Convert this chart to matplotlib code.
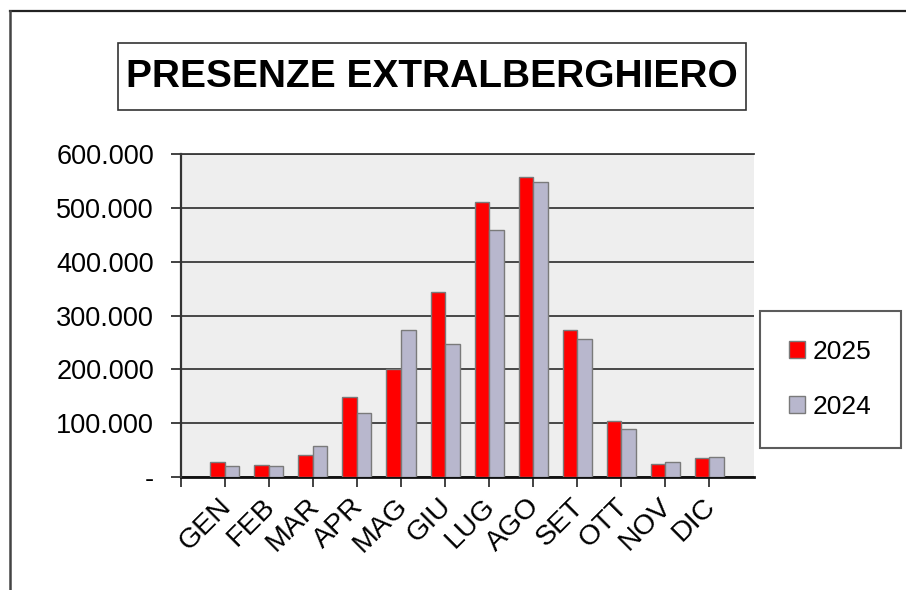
import numpy as np
import matplotlib.pyplot as plt
from matplotlib.patches import Rectangle
from matplotlib.lines import Line2D
from matplotlib.ticker import FuncFormatter
from matplotlib.transforms import ScaledTranslation

plt.rcParams['font.family'] = ['Liberation Sans', 'DejaVu Sans']

# ---------------- data ----------------
mesi = ['GEN', 'FEB', 'MAR', 'APR', 'MAG', 'GIU',
        'LUG', 'AGO', 'SET', 'OTT', 'NOV', 'DIC']
pres_2025 = [28000, 23000, 40000, 148000, 200000, 344000,
             511000, 558000, 273000, 104000, 24000, 36000]
pres_2024 = [20000, 20000, 58000, 118000, 273000, 247000,
             458000, 548000, 256000, 89000, 28000, 37000]
anni = ['2025', '2024']

# ---------------- figure ----------------
W, H = 906, 590
fig = plt.figure(figsize=(W / 100, H / 100), dpi=100)

def fx(px):
    return px / W

def fy(py):
    return 1 - py / H

# outer frame (top + left)
fig.add_artist(Line2D([fx(10), 1], [fy(11), fy(11)], color='#222222', lw=1.6))
fig.add_artist(Line2D([fx(10), fx(10)], [fy(11), 0], color='#444444', lw=1.8))

# title box
fig.add_artist(Rectangle((fx(118), fy(110)), fx(746) - fx(118), fy(43) - fy(110),
                         transform=fig.transFigure, fill=False,
                         edgecolor='#333333', lw=1.2))
fig.text(fx(432), fy(77), 'PRESENZE EXTRALBERGHIERO', fontsize=28,
         fontweight='bold', ha='center', va='center')

ax = fig.add_axes([fx(180.7), fy(477), fx(753.5) - fx(180.7), fy(154) - fy(477)])
ax.set_facecolor('#eeeeee')

x = np.arange(len(mesi))
w = 0.33
b1 = ax.bar(x - w / 2, pres_2025, w, color='#ff0000', edgecolor='#7a7a7a',
            lw=1.0, label=anni[0], zorder=3)
b2 = ax.bar(x + w / 2, pres_2024, w, color='#b8b7cd', edgecolor='#7a7a7a',
            lw=1.0, label=anni[1], zorder=3)

ax.set_xlim(-1, 12)
ax.set_ylim(0, 600000)
ax.set_yticks(np.arange(0, 600001, 100000))

def fmt(v, pos):
    if v == 0:
        return '-'
    return f'{int(v):,}'.replace(',', '.')

ax.yaxis.set_major_formatter(FuncFormatter(fmt))
ax.yaxis.grid(True, color='#3a3a3a', lw=1.3, zorder=1)
ax.set_axisbelow(True)

ax.tick_params(axis='y', length=7.2, width=1.3, color='#333333',
               labelsize=19.5, pad=12)
ax.tick_params(axis='x', length=7.2, width=1.3, color='#333333',
               labelsize=20.5, pad=6)

ax.set_xticks(np.arange(-1, 12))
ax.set_xticklabels([''] + mesi, rotation=45, ha='right', va='top',
                   rotation_mode='anchor')
# nudge the rotated month labels so their ends sit under the ticks
shift = ScaledTranslation(-7 / 100, 2 / 100, fig.dpi_scale_trans)
for lab in ax.get_xticklabels():
    lab.set_transform(lab.get_transform() + shift)

ax.spines['right'].set_visible(False)
ax.spines['top'].set_color('#3a3a3a')
ax.spines['top'].set_linewidth(1.3)
ax.spines['left'].set_color('#333333')
ax.spines['left'].set_linewidth(1.6)
ax.spines['bottom'].set_color('#111111')
ax.spines['bottom'].set_linewidth(2.0)
ax.spines['bottom'].set_zorder(2)

leg = fig.legend(handles=[b1, b2], labels=anni, loc='upper left',
                 bbox_to_anchor=(fx(760), fy(311)), fontsize=19,
                 frameon=True, fancybox=False, borderpad=1.1,
                 labelspacing=1.17, handlelength=0.6, handleheight=0.6,
                 handletextpad=0.3, borderaxespad=0)
leg.get_frame().set_edgecolor('#333333')
leg.get_frame().set_linewidth(1.5)

fig.savefig('out.png', dpi=100)
